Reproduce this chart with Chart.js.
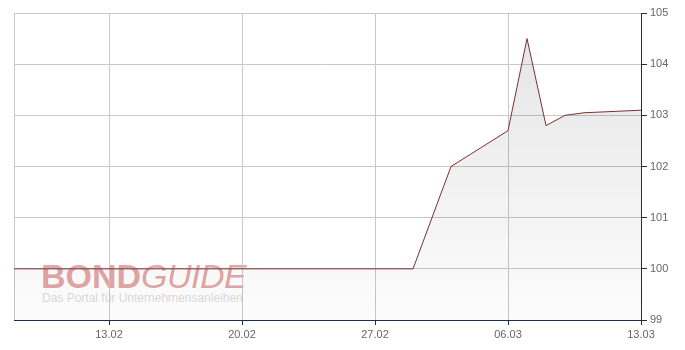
<!DOCTYPE html>
<html>
<head>
<meta charset="utf-8">
<script src="https://cdn.jsdelivr.net/npm/chart.js@4"></script>
<style>
  html, body { margin: 0; padding: 0; background: #fff; }
  #wrap { position: relative; width: 685px; height: 350px; background: #fff; }
  canvas { position: absolute; left: 0; top: 0; z-index: 2; }
  .wm { position: absolute; z-index: 1; pointer-events: none; font-family: "Liberation Sans", Arial, sans-serif; white-space: nowrap; }
  #wm1 { left: 41px; top: 259px; font-size: 34px; line-height: 34px; color: rgba(205,90,90,0.55); letter-spacing: 0px; }
  #wm1 b { font-weight: bold; }
  #wm1 i { font-weight: normal; font-style: italic; letter-spacing: -0.5px; }
  #wm2 { left: 42px; top: 292px; font-size: 12px; line-height: 12px; color: rgba(150,150,150,0.35); }
</style>
</head>
<body>
<div id="wrap">
  <canvas id="c" width="685" height="350"></canvas>
  <div class="wm" id="wm1"><b>BOND</b><i>GUIDE</i></div>
  <div class="wm" id="wm2">Das Portal für Unternehmensanleihen</div>
</div>
<script>
// Day index: 0 = 08.02
const dayIndex = [0, 21, 23, 26, 27, 28, 29, 30, 33];
const prices   = [100, 100, 102.0, 102.7, 104.5, 102.8, 103.0, 103.05, 103.1];
const xTickDays   = [0, 5, 12, 19, 26, 33];
const xTickLabels = ['', '13.02', '20.02', '27.02', '06.03', '13.03'];
const yTicks = [99, 100, 101, 102, 103, 104, 105];

const gridCol = '#c8c8c8';
const axisCol = '#1f2d4d';
const labelCol = '#666666';

const points = dayIndex.map((d, i) => ({ x: d, y: prices[i] }));

new Chart(document.getElementById('c'), {
  type: 'line',
  data: {
    datasets: [{
      data: points,
      borderColor: '#7a3030',
      borderWidth: 1,
      pointRadius: 0,
      tension: 0,
      fill: 'start',
      backgroundColor: (ctx) => {
        const ca = ctx.chart.chartArea;
        if (!ca) return 'rgba(0,0,0,0.08)';
        const g = ctx.chart.ctx.createLinearGradient(0, ca.top, 0, ca.bottom);
        g.addColorStop(0, 'rgba(0,0,0,0.105)');
        g.addColorStop(1, 'rgba(0,0,0,0.012)');
        return g;
      }
    }]
  },
  options: {
    responsive: false,
    animation: false,
    layout: { padding: { left: 14, top: 13, right: 0, bottom: 0 } },
    plugins: { legend: { display: false }, tooltip: { enabled: false } },
    scales: {
      x: {
        type: 'linear',
        min: 0, max: 33,
        afterBuildTicks: (s) => { s.ticks = xTickDays.map(v => ({ value: v })); },
        afterFit: (s) => { s.height = 30; },
        grid: {
          color: gridCol,
          tickColor: (c) => c.tick && c.tick.value === 0 ? 'rgba(0,0,0,0)' : axisCol,
          tickLength: 5,
          drawOnChartArea: true
        },
        border: { color: axisCol, width: 1 },
        ticks: {
          autoSkip: false,
          maxRotation: 0,
          padding: 3,
          color: labelCol,
          font: { family: 'Liberation Sans', size: 11 },
          callback: (v) => { const i = xTickDays.indexOf(v); return i >= 0 ? xTickLabels[i] : ''; }
        }
      },
      y: {
        position: 'right',
        min: 99, max: 105,
        afterBuildTicks: (s) => { s.ticks = yTicks.map(v => ({ value: v })); },
        afterFit: (s) => { s.width = 44; },
        grid: { color: gridCol, tickColor: axisCol, tickLength: 6 },
        border: { color: axisCol, width: 1 },
        ticks: {
          padding: 3,
          color: labelCol,
          font: { family: 'Liberation Sans', size: 11 }
        }
      }
    }
  }
});
</script>
</body>
</html>
